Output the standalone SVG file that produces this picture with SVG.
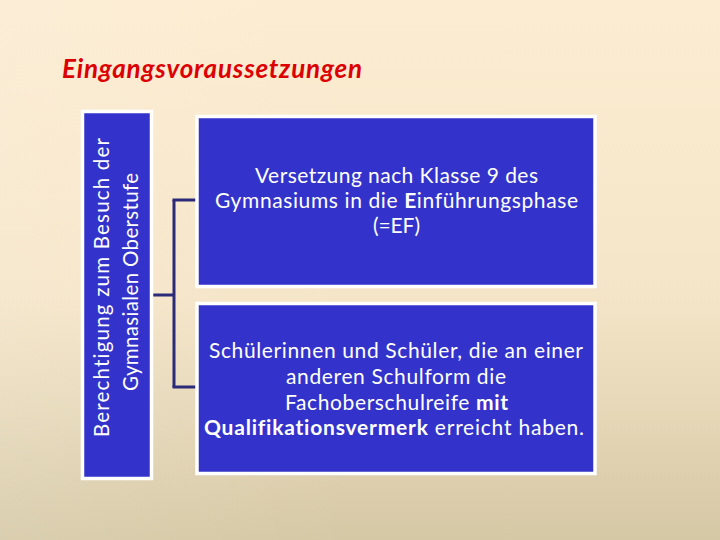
<svg xmlns="http://www.w3.org/2000/svg" width="720" height="540" viewBox="0 0 720 540">
  <defs>
    <linearGradient id="bg" x1="0" y1="0" x2="0" y2="1">
      <stop offset="0" stop-color="#fcecd1"/>
      <stop offset="0.55" stop-color="#f5e5c8"/>
      <stop offset="1" stop-color="#d5c8a5"/>
    </linearGradient>
    <linearGradient id="bgl" x1="0" y1="0" x2="1" y2="0">
      <stop offset="0" stop-color="#ffffff" stop-opacity="0.12"/>
      <stop offset="0.5" stop-color="#ffffff" stop-opacity="0"/>
    </linearGradient>
  </defs>
  <style>
    .box { fill: #3333cc; stroke: #ffffff; stroke-width: 3.5; }
    .txt { font-family: Lato, "Open Sans", "Noto Sans", sans-serif; fill: #ffffff; font-size: 21px; text-anchor: middle; font-variant-ligatures: none; }
    .vt { font-family: Lato, "Open Sans", "Noto Sans", sans-serif; fill: #ffffff; font-size: 20.5px; text-anchor: middle; font-variant-ligatures: none; }
    .conn { fill: none; stroke: #2b2b7a; stroke-width: 3; }
    .title { font-family: Lato, "Open Sans", "Liberation Sans", sans-serif; font-weight: bold; font-style: italic; font-size: 26px; fill: #dd0000; }
    .b { font-weight: bold; }
  </style>
  <rect x="0" y="0" width="720" height="540" fill="url(#bg)"/>
  <rect x="0" y="0" width="720" height="540" fill="url(#bgl)"/>

  <text class="title" x="62" y="78" textLength="300">Eingangsvoraussetzungen</text>

  <g id="connectors">
    <path class="conn" d="M153 295 H174"/>
    <path class="conn" d="M174 200 V387"/>
    <path class="conn" d="M172.5 200 H197"/>
    <path class="conn" d="M172.5 387 H197"/>
  </g>

  <g id="node-left">
    <rect class="box" x="82.5" y="111.5" width="69" height="367"/>
    <text class="vt" transform="translate(109 287.5) rotate(-90)" x="0" y="0" textLength="299">Berechtigung zum Besuch der</text>
    <text class="vt" transform="translate(138 282) rotate(-90)" x="0" y="0" textLength="218">Gymnasialen Oberstufe</text>
  </g>

  <g id="node-top">
    <rect class="box" x="197" y="116.5" width="398" height="170"/>
    <text class="txt" x="396.5" y="183" textLength="283">Versetzung nach Klasse 9 des</text>
    <text class="txt" x="396.5" y="208" textLength="363">Gymnasiums in die <tspan class="b">E</tspan>inführungsphase</text>
    <text class="txt" x="396.5" y="233" textLength="47">(=EF)</text>
  </g>

  <g id="node-bottom">
    <rect class="box" x="197" y="303.5" width="398" height="170"/>
    <text class="txt" x="396" y="358" textLength="374">Schülerinnen und Schüler, die an einer</text>
    <text class="txt" x="396" y="384" textLength="220">anderen Schulform die</text>
    <text class="txt" x="396.5" y="410" textLength="223">Fachoberschulreife <tspan class="b">mit</tspan></text>
    <text class="txt" x="394" y="435" textLength="380"><tspan class="b">Qualifikationsvermerk</tspan> erreicht haben.</text>
  </g>
</svg>
